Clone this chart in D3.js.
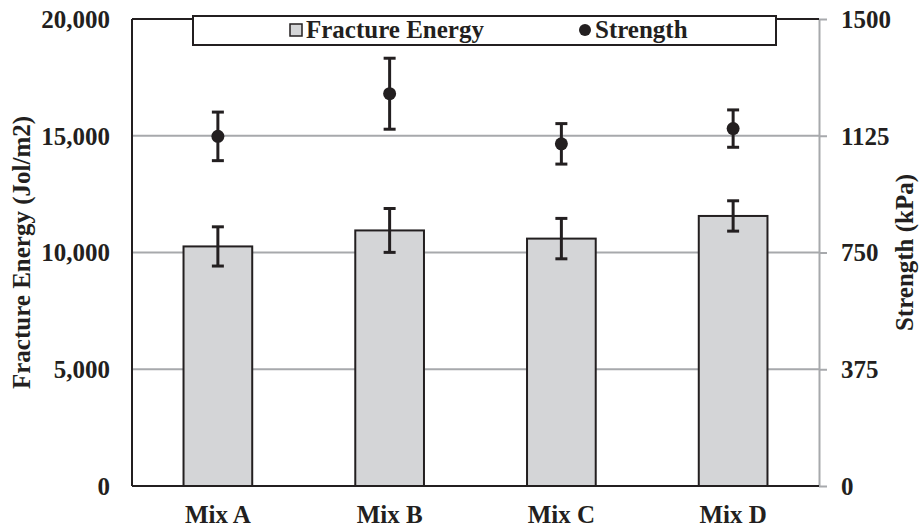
<!DOCTYPE html>
<html>
<head>
<meta charset="utf-8">
<script src="https://cdn.jsdelivr.net/npm/d3@7"></script>
<style>
  body { margin: 0; background: #fff; }
  svg { display: block; font-family: "Liberation Serif", "Times New Roman", serif; font-weight: bold; }
</style>
</head>
<body>
<div id="chart"></div>
<script>
const mixes = ["Mix A", "Mix B", "Mix C", "Mix D"]
const energy = [10260, 10945, 10595, 11565]
const energyErr = [840, 940, 865, 650]
const strength = [1123, 1260, 1099, 1148]
const strengthErr = [78, 114, 65, 60]
const energyTicks = [0, 5000, 10000, 15000, 20000]
const strengthTicks = [0, 375, 750, 1125, 1500]

const size = [922, 530]
const margin = {top: 19, right: 103, bottom: 44, left: 132}
const ink = "#231f20"
const grid = "#a7a9ac"
const fontSize = 25

const x = d3.scaleBand(mixes, [margin.left, size[0] - margin.right])
  .paddingInner(0.6)
  .paddingOuter(0.3)
const yL = d3.scaleLinear([0, 20000], [size[1] - margin.bottom, margin.top])
const yR = d3.scaleLinear([0, 1500], [size[1] - margin.bottom, margin.top])

const svg = d3.select("#chart").append("svg")
  .attr("width", size[0])
  .attr("height", size[1])

// gridlines
svg.append("g")
  .selectAll("line")
  .data(energyTicks.filter(d => d > 0 && d < 20000))
  .join("line")
    .attr("x1", margin.left)
    .attr("x2", size[0] - margin.right)
    .attr("y1", d => yL(d))
    .attr("y2", d => yL(d))
    .attr("stroke", grid)
    .attr("stroke-width", 2)

// right axis (gray, ticks outside)
svg.append("g")
  .attr("transform", `translate(${size[0] - margin.right},0)`)
  .call(d3.axisRight(yR).tickValues(strengthTicks).tickSize(8).tickSizeOuter(0).tickFormat(""))
  .call(g => g.select(".domain").attr("stroke", grid).attr("stroke-width", 2))
  .call(g => g.selectAll(".tick line").attr("stroke", grid).attr("stroke-width", 2))

// bars
const rows = mixes.map((m, i) => ({m, e: energy[i], ee: energyErr[i], s: strength[i], se: strengthErr[i]}))

svg.append("g")
  .selectAll("rect")
  .data(rows)
  .join("rect")
    .attr("x", d => x(d.m))
    .attr("y", d => yL(d.e))
    .attr("width", x.bandwidth())
    .attr("height", d => yL(0) - yL(d.e))
    .attr("fill", "#d4d5d7")
    .attr("stroke", ink)
    .attr("stroke-width", 2)

// plot frame: left, top, bottom
const frame = svg.append("g").attr("stroke", ink).attr("stroke-width", 2).attr("fill", "none")
frame.append("line")
  .attr("x1", margin.left).attr("x2", margin.left)
  .attr("y1", margin.top).attr("y2", yL(0))
frame.append("line")
  .attr("x1", margin.left).attr("x2", size[0] - margin.right)
  .attr("y1", margin.top).attr("y2", margin.top)
frame.append("line")
  .attr("x1", margin.left).attr("x2", size[0] - margin.right)
  .attr("y1", yL(0)).attr("y2", yL(0))

// error bars
const errBar = (g, scale, v, e) => {
  const cx = d => x(d.m) + x.bandwidth() / 2
  g.selectAll(null)
    .data(rows)
    .join("line")
      .attr("x1", cx).attr("x2", cx)
      .attr("y1", d => scale(d[v] + d[e]))
      .attr("y2", d => scale(d[v] - d[e]))
  for (const s of [1, -1]) {
    g.selectAll(null)
      .data(rows)
      .join("line")
        .attr("x1", d => cx(d) - 6).attr("x2", d => cx(d) + 6)
        .attr("y1", d => scale(d[v] + s * d[e]))
        .attr("y2", d => scale(d[v] + s * d[e]))
  }
}

const errs = svg.append("g").attr("stroke", ink).attr("stroke-width", 3)
errBar(errs, yL, "e", "ee")
errBar(errs, yR, "s", "se")

svg.append("g")
  .selectAll("circle")
  .data(rows)
  .join("circle")
    .attr("cx", d => x(d.m) + x.bandwidth() / 2)
    .attr("cy", d => yR(d.s))
    .attr("r", 6.5)
    .attr("fill", ink)

// tick labels
svg.append("g")
  .attr("font-size", fontSize)
  .attr("fill", ink)
  .attr("text-anchor", "end")
  .selectAll("text")
  .data(energyTicks)
  .join("text")
    .attr("x", 110)
    .attr("y", d => yL(d))
    .attr("dy", "0.35em")
    .text(d => d3.format(",")(d))

svg.append("g")
  .attr("font-size", fontSize)
  .attr("fill", ink)
  .attr("text-anchor", "start")
  .selectAll("text")
  .data(strengthTicks)
  .join("text")
    .attr("x", 841)
    .attr("y", d => yR(d))
    .attr("dy", "0.35em")
    .text(d => d)

svg.append("g")
  .attr("font-size", fontSize)
  .attr("fill", ink)
  .attr("text-anchor", "middle")
  .selectAll("text")
  .data(mixes)
  .join("text")
    .attr("x", d => x(d) + x.bandwidth() / 2)
    .attr("y", 523)
    .text(d => d)

// axis titles
const midY = (margin.top + yL(0)) / 2
svg.append("text")
  .attr("transform", `translate(30,${midY}) rotate(-90)`)
  .attr("text-anchor", "middle")
  .attr("font-size", fontSize)
  .attr("fill", ink)
  .text("Fracture Energy (Jol/m2)")
svg.append("text")
  .attr("transform", `translate(913,${midY}) rotate(-90)`)
  .attr("text-anchor", "middle")
  .attr("font-size", fontSize)
  .attr("fill", ink)
  .text("Strength (kPa)")

// legend
const legend = svg.append("g")
legend.append("rect")
  .attr("x", 193).attr("y", 16)
  .attr("width", 583).attr("height", 29)
  .attr("fill", "#fff")
  .attr("stroke", ink)
  .attr("stroke-width", 2)
legend.append("rect")
  .attr("x", 290).attr("y", 24)
  .attr("width", 12).attr("height", 12)
  .attr("fill", "#d4d5d7")
  .attr("stroke", ink)
  .attr("stroke-width", 1.5)
legend.append("text")
  .attr("x", 306).attr("y", 38)
  .attr("font-size", fontSize)
  .attr("fill", ink)
  .text("Fracture Energy")
legend.append("circle")
  .attr("cx", 585).attr("cy", 30)
  .attr("r", 6)
  .attr("fill", ink)
legend.append("text")
  .attr("x", 595).attr("y", 38)
  .attr("font-size", fontSize)
  .attr("fill", ink)
  .text("Strength")
</script>
</body>
</html>
